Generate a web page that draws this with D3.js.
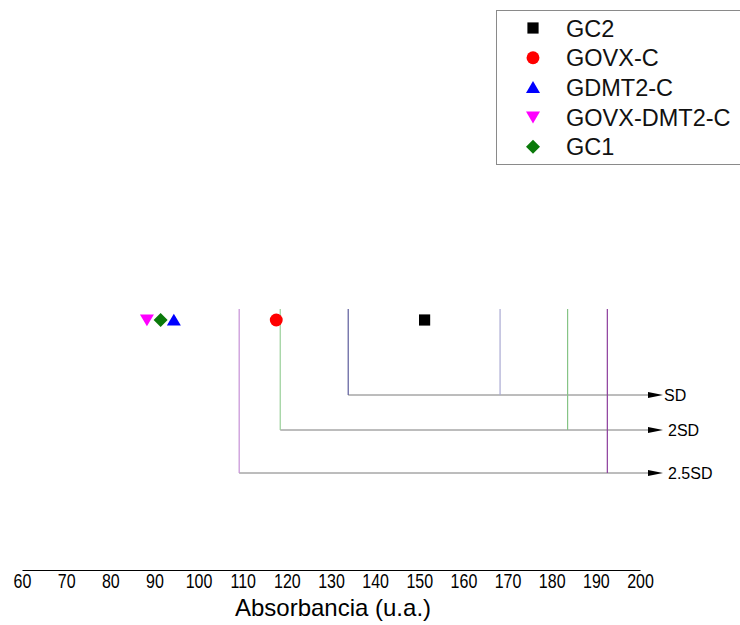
<!DOCTYPE html>
<html>
<head>
<meta charset="utf-8">
<script src="https://cdn.jsdelivr.net/npm/d3@7"></script>
<style>
  html, body { margin: 0; padding: 0; background: #fff; }
  svg { display: block; font-family: "Liberation Sans", Arial, sans-serif; }
</style>
</head>
<body>
<svg id="chart" width="740" height="625"></svg>
<script>
// Sample means (absorbance, a.u.)
const series = ["GC2", "GOVX-C", "GDMT2-C", "GOVX-DMT2-C", "GC1"];
const values = [151.2, 117.6, 94.4, 88.3, 91.4];
const colors = ["#000000", "#ff0000", "#0000ff", "#ff00ff", "#0a7a0a"];
const symbols = ["square", "circle", "up", "down", "diamond"];

// Deviation bands around the GC2 mean
const bandLabels = ["SD", "2SD", "2.5SD"];
const bandLow = [133.9, 118.5, 109.2];
const bandHigh = [168.3, 183.6, 192.6];
const bandLowColor = ["#5c5c9c", "#98cf98", "#c690d6"];
const bandHighColor = ["#aaaad2", "#86c486", "#8c3c9c"];

// Axis ticks
const tickValues = [60, 70, 80, 90, 100, 110, 120, 130, 140, 150, 160, 170, 180, 190, 200];
const axisTitle = "Absorbancia (u.a.)";

const svg = d3.select("#chart");
const x = d3.scaleLinear().domain([60, 200]).range([22, 640]);
const markerY = 320;
const bandTop = 309;
const bandY = d3.scaleOrdinal().domain(bandLabels).range([395, 430, 473]);
const arrowEnd = 663;

// Marker shapes, r = half extent in px
function symbolPath(sym, r) {
  switch (sym) {
    case "square": { const h = r * 0.8; return `M${-h},${-h}H${h}V${h}H${-h}Z`; }
    case "circle": return d3.symbol().type(d3.symbolCircle).size(Math.PI * r * r * 0.85)();
    case "up": return `M0,${-r * 0.9}L${r},${r * 0.8}L${-r},${r * 0.8}Z`;
    case "down": return `M0,${r * 0.9}L${r},${-r * 0.8}L${-r},${-r * 0.8}Z`;
    case "diamond": return `M0,${-r}L${r},0L0,${r}L${-r},0Z`;
  }
}

// Bands: left vertical, right vertical, horizontal line with arrow
const bands = svg.append("g");
bandLabels.forEach((lab, i) => {
  const y = bandY(lab);
  bands.append("line")
    .attr("x1", x(bandLow[i])).attr("x2", arrowEnd - 12)
    .attr("y1", y).attr("y2", y)
    .attr("stroke", "#7a7a7a").attr("stroke-width", 1);
  bands.append("line")
    .attr("x1", x(bandLow[i])).attr("x2", x(bandLow[i]))
    .attr("y1", bandTop).attr("y2", y)
    .attr("stroke", bandLowColor[i]).attr("stroke-width", 1.2);
  bands.append("line")
    .attr("x1", x(bandHigh[i])).attr("x2", x(bandHigh[i]))
    .attr("y1", bandTop).attr("y2", y)
    .attr("stroke", bandHighColor[i]).attr("stroke-width", 1.2);
  bands.append("path")
    .attr("d", `M${arrowEnd - 15},${y - 3} L${arrowEnd},${y} L${arrowEnd - 15},${y + 3} Z`)
    .attr("fill", "#000");
  bands.append("text")
    .attr("x", lab === "SD" ? arrowEnd + 1 : arrowEnd + 5)
    .attr("y", y + 5.5)
    .attr("font-size", 16)
    .attr("fill", "#000")
    .text(lab);
});

// Data markers
svg.append("g").selectAll("path")
  .data(series.map((s, i) => ({ s, v: values[i], c: colors[i], sym: symbols[i] })))
  .join("path")
  .attr("d", d => symbolPath(d.sym, 7))
  .attr("transform", d => `translate(${x(d.v)},${markerY})`)
  .attr("fill", d => d.c);

// X axis
const axis = d3.axisBottom(x).tickValues(tickValues).tickSize(0).tickSizeOuter(0).tickPadding(4);
const gx = svg.append("g").attr("transform", "translate(0,570)").call(axis);
gx.select(".domain").attr("stroke", "#000").attr("stroke-width", 1.2);
// slightly condensed tick labels, centred on their ticks
gx.selectAll(".tick text")
  .attr("font-size", 20)
  .attr("font-family", "'Liberation Sans', Arial, sans-serif")
  .attr("fill", "#000")
  .attr("transform", "scale(0.8,1)");

svg.append("text")
  .attr("x", 333).attr("y", 616)
  .attr("text-anchor", "middle")
  .attr("font-size", 24)
  .attr("fill", "#000")
  .text(axisTitle);

// Legend
const legend = svg.append("g");
legend.append("rect")
  .attr("x", 496.5).attr("y", 10.5).attr("width", 260).attr("height", 154)
  .attr("fill", "#fff").attr("stroke", "#8a8a8a").attr("stroke-width", 1);
series.forEach((s, i) => {
  const cy = 28 + i * 29.7;
  legend.append("path")
    .attr("d", symbolPath(symbols[i], 7))
    .attr("transform", `translate(533,${cy})`)
    .attr("fill", colors[i]);
  legend.append("text")
    .attr("x", 566).attr("y", cy + 8.5)
    .attr("font-size", 23.5)
    .attr("fill", "#111")
    .text(s);
});
</script>
</body>
</html>
